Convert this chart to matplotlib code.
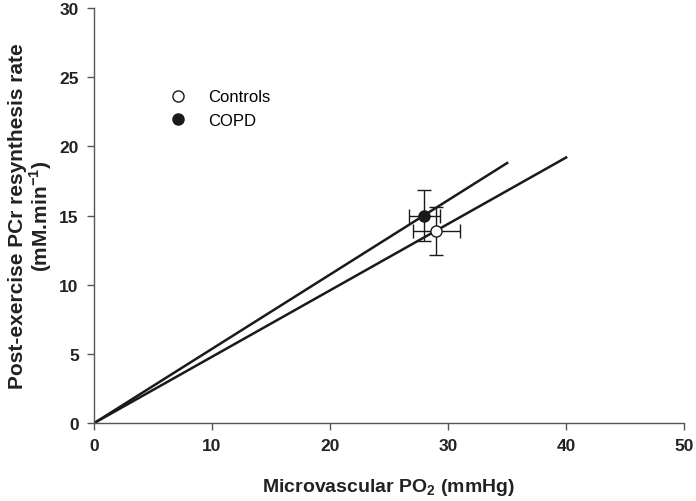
import matplotlib
matplotlib.use("Agg")
import matplotlib.pyplot as plt
from matplotlib.lines import Line2D

plt.rcParams['font.family'] = ['Liberation Sans', 'DejaVu Sans']
plt.rcParams['mathtext.fontset'] = 'custom'
plt.rcParams['mathtext.rm'] = 'Liberation Sans'
plt.rcParams['mathtext.bf'] = 'Liberation Sans:bold'

# group means and SE
groups = ['Controls', 'COPD']
po2_mean = [29.0, 28.0]
po2_err = [2.0, 1.3]
pcr_mean = [13.9, 15.0]
pcr_err = [1.75, 1.85]
# regression lines through origin
line_x_end = [40.0, 35.0]
line_y_end = [19.2, 18.8]

fig = plt.figure(figsize=(6.96, 5.02), dpi=100)
ax = fig.add_axes([0.135, 0.155, 0.848, 0.827])

for xe, ye in zip(line_x_end, line_y_end):
    ax.plot([0, xe], [0, ye], color='#1a1a1a', lw=1.8, zorder=2)

faces = ['white', '#1a1a1a']
for i in range(len(groups)):
    ax.errorbar(po2_mean[i], pcr_mean[i], xerr=po2_err[i], yerr=pcr_err[i],
                fmt='none', ecolor='#1a1a1a', elinewidth=1.0, capsize=5, capthick=1.0, zorder=3)
    ax.plot(po2_mean[i], pcr_mean[i], 'o', ms=8, mfc=faces[i], mec='#1a1a1a', mew=1.0, zorder=4)

handles = [Line2D([], [], ls='none', marker='o', ms=8, mfc=f, mec='#1a1a1a', mew=1.0) for f in faces]
ax.legend(handles, groups, loc='upper left', bbox_to_anchor=(0.089, 0.84), frameon=False,
          fontsize=12, handletextpad=0.8, labelspacing=0.5)

ax.set_xlim(0, 50)
ax.set_ylim(0, 30)
ax.set_xticks([0, 10, 20, 30, 40, 50])
ax.set_yticks([0, 5, 10, 15, 20, 25, 30])
for s in ['top', 'right']:
    ax.spines[s].set_visible(False)
for s in ['left', 'bottom']:
    ax.spines[s].set_color('#555555')
    ax.spines[s].set_linewidth(1.0)
ax.tick_params(direction='out', length=5, width=1, color='#555555', labelsize=12.5, pad=6)
for lab in ax.get_xticklabels() + ax.get_yticklabels():
    lab.set_fontweight('bold')
    lab.set_color('#222222')

ax.set_xlabel(r'Microvascular PO$_\mathbf{2}$ (mmHg)', fontsize=14, fontweight='bold', labelpad=16, color='#222222')
ax.set_ylabel('Post-exercise PCr resynthesis rate\n' + r'(mM.min$^\mathbf{-1}$)', fontsize=15,
              fontweight='bold', labelpad=4, color='#222222', linespacing=1.0)

fig.savefig('out.png', dpi=100)
